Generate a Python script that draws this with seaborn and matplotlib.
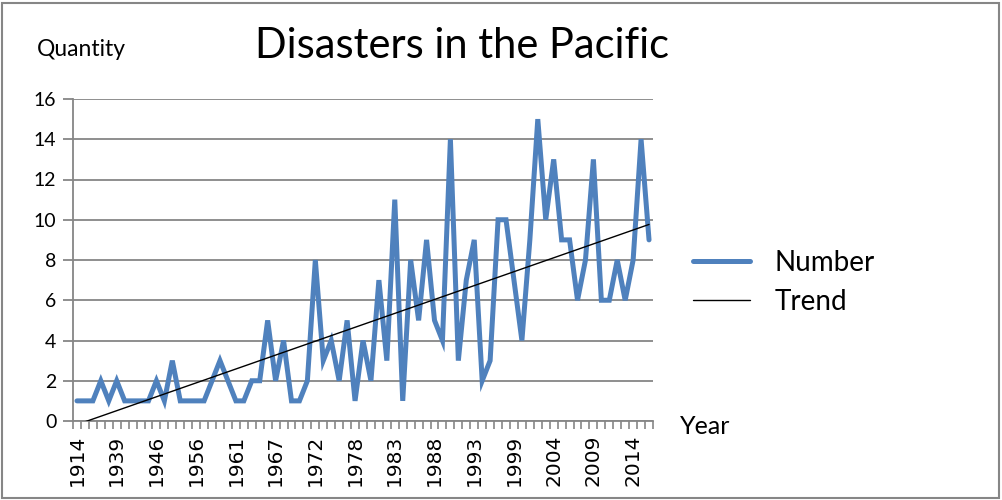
import numpy as np
import pandas as pd
import matplotlib
matplotlib.use("Agg")
import matplotlib.pyplot as plt
from matplotlib.lines import Line2D
from matplotlib.patches import Rectangle
import seaborn as sns

# Years that recorded at least one disaster, in chart order
years = [1914, 1918, 1923, 1928, 1933,
         1939, 1940, 1942, 1943, 1945,
         1946, 1948, 1950, 1952, 1954,
         1956, 1957, 1958, 1959, 1960,
         1961, 1962, 1963, 1964, 1966,
         1967, 1968, 1969, 1970, 1971,
         1972, 1973, 1974, 1975, 1977,
         1978, 1979, 1980, 1981, 1982,
         1983, 1984, 1985, 1986, 1987,
         1988, 1989, 1990, 1991, 1992,
         1993, 1994, 1995, 1996, 1998,
         1999, 2000, 2001, 2002, 2003,
         2004, 2005, 2006, 2007, 2008,
         2009, 2010, 2011, 2012, 2013,
         2014, 2015, 2016]

# Number of disasters per year
number = [1, 1, 1, 2, 1,
          2, 1, 1, 1, 1,
          2, 1, 3, 1, 1,
          1, 1, 2, 3, 2,
          1, 1, 2, 2, 5,
          2, 4, 1, 1, 2,
          8, 3, 4, 2, 5,
          1, 4, 2, 7, 3,
          11, 1, 8, 5, 9,
          5, 4, 14, 3, 7,
          9, 2, 3, 10, 10,
          7, 4, 9, 15, 10,
          13, 9, 9, 6, 8,
          13, 6, 6, 8, 6,
          8, 14, 9]

title = "Disasters in the Pacific"
y_label = "Quantity"
x_label = "Year"
series_names = ["Number", "Trend"]

pos = np.arange(len(years))
slope, intercept = np.polyfit(pos, number, 1)
trend = intercept + slope * pos

df = pd.DataFrame({"pos": pos, "Number": number, "Trend": trend})

sns.set_theme(style="white")
plt.rcParams["font.family"] = ["Lato", "DejaVu Sans"]
plt.rcParams["text.color"] = "black"
plt.rcParams["xtick.labelcolor"] = "black"
plt.rcParams["ytick.labelcolor"] = "black"

W, H = 1002, 500
fig = plt.figure(figsize=(W / 100, H / 100), dpi=100)
ax = fig.add_axes([73 / W, 1 - 421 / H, 580 / W, 322 / H])

blue = "#4F81BD"
grey = "#868686"

sns.lineplot(data=df, x="pos", y="Number", ax=ax, color=blue, linewidth=3.6,
             solid_joinstyle="miter", zorder=3)
sns.lineplot(data=df, x="pos", y="Trend", ax=ax, color="black", linewidth=1.0,
             zorder=4)

ax.set_xlim(-0.5, len(years) - 0.5)
ax.set_ylim(0, 16)
ax.set_yticks(np.arange(0, 17, 2))
ax.set_ylabel("")
ax.set_xlabel("")

ax.grid(axis="y", color=grey, linewidth=1.3)
ax.set_axisbelow(True)
for s in ["top", "right"]:
    ax.spines[s].set_visible(False)
for s in ["left", "bottom"]:
    ax.spines[s].set_color(grey)
    ax.spines[s].set_linewidth(1.3)

label_idx = pos[::5]
ax.set_xticks(label_idx)
ax.set_xticklabels([str(years[i]) for i in label_idx], rotation=90,
                   fontsize=14.5, family="DejaVu Sans", color="black")
ax.set_xticks(np.arange(-0.5, len(years), 1.0), minor=True)
ax.tick_params(axis="x", which="major", length=0, pad=10)
ax.tick_params(axis="x", which="minor", length=6, width=1.2, color=grey,
               direction="out", bottom=True)
ax.tick_params(axis="y", length=7, width=1.3, color=grey, direction="out",
               left=True, labelsize=14, pad=5, labelcolor="black")

fig.text(462 / W, 1 - 46 / H, title, ha="center", va="center", fontsize=30,
         color="black")
fig.text(37 / W, 1 - 49 / H, y_label, ha="left", va="center", fontsize=16.5,
         color="black")
fig.text(680 / W, 1 - 426 / H, x_label, ha="left", va="center", fontsize=18,
         color="black")

handles = [Line2D([], [], color=blue, linewidth=3.6),
           Line2D([], [], color="black", linewidth=1.0)]
leg = fig.legend(handles, series_names, loc="upper left",
                 bbox_to_anchor=(693 / W, 1 - 250 / H), frameon=False,
                 fontsize=20, handlelength=2.05, handletextpad=0.9,
                 labelspacing=0.45, borderaxespad=0, borderpad=0)
for t in leg.get_texts():
    t.set_color("black")

fig.patches.append(Rectangle((2 / W, 2 / H), 997 / W, 495 / H,
                             transform=fig.transFigure, fill=False,
                             edgecolor=grey, linewidth=1.5))

fig.savefig("out.png", dpi=100)
